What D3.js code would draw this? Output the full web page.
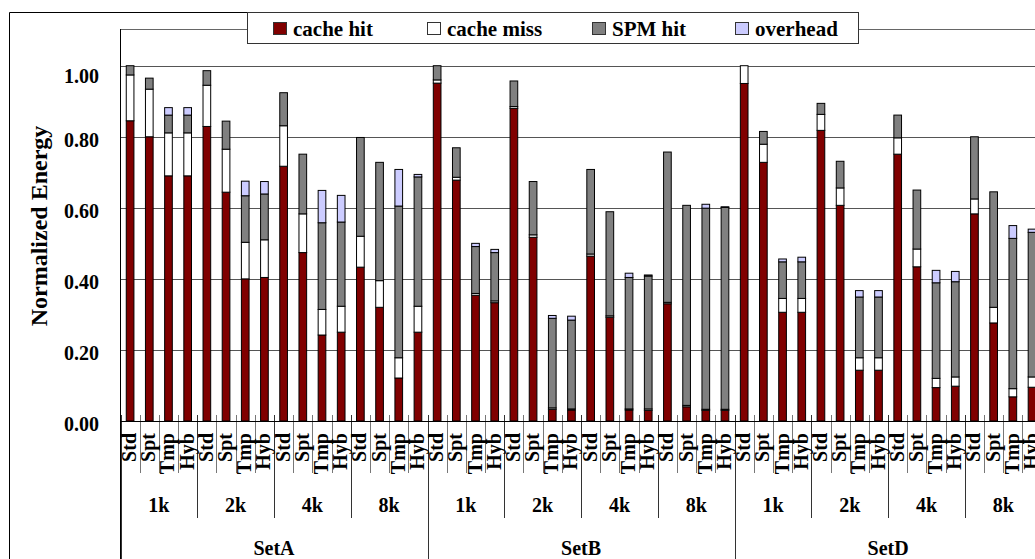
<!DOCTYPE html>
<html>
<head>
<meta charset="utf-8">
<script src="https://cdn.jsdelivr.net/npm/d3@7"></script>
<style>
  html, body { margin: 0; padding: 0; background: #fff; overflow: hidden; }
  svg { display: block; font-family: "Liberation Serif", "Times New Roman", serif; font-weight: bold; }
</style>
</head>
<body>
<div id="chart"></div>
<script>
const sets = ["SetA", "SetB", "SetD"];
const sizes = ["1k", "2k", "4k", "8k"];
const variants = ["Std", "Spt", "Tmp", "Hyb"];
const yTicks = [0, 0.2, 0.4, 0.6, 0.8, 1.0];
const seriesNames = ["cache hit", "cache miss", "SPM hit", "overhead"];

// one value per bar, ordered set -> size -> variant
const cacheHit = [
  0.845, 0.800, 0.690, 0.690, 0.829, 0.644, 0.400, 0.404, 0.717, 0.474, 0.242, 0.250, 0.433, 0.320, 0.121, 0.250,
  0.951, 0.678, 0.354, 0.333, 0.880, 0.517, 0.033, 0.031, 0.464, 0.292, 0.031, 0.030, 0.330, 0.040, 0.030, 0.030,
  0.950, 0.728, 0.306, 0.306, 0.818, 0.607, 0.143, 0.143, 0.751, 0.434, 0.094, 0.098, 0.583, 0.276, 0.068, 0.095
];
const cacheMiss = [
  0.129, 0.134, 0.121, 0.121, 0.116, 0.121, 0.103, 0.106, 0.114, 0.109, 0.072, 0.073, 0.087, 0.075, 0.057, 0.073,
  0.009, 0.008, 0.005, 0.005, 0.005, 0.007, 0.004, 0.003, 0.006, 0.004, 0.003, 0.004, 0.004, 0.004, 0.003, 0.003,
  0.050, 0.051, 0.039, 0.039, 0.045, 0.049, 0.035, 0.035, 0.046, 0.050, 0.026, 0.026, 0.042, 0.044, 0.023, 0.029
];
const spmHit = [
  0.026, 0.031, 0.050, 0.050, 0.041, 0.079, 0.131, 0.129, 0.093, 0.168, 0.244, 0.237, 0.278, 0.333, 0.427, 0.364,
  0.040, 0.083, 0.132, 0.136, 0.072, 0.150, 0.252, 0.250, 0.238, 0.293, 0.370, 0.374, 0.423, 0.563, 0.566, 0.568,
  0.000, 0.036, 0.103, 0.103, 0.031, 0.075, 0.171, 0.171, 0.064, 0.166, 0.269, 0.268, 0.175, 0.325, 0.423, 0.407
];
const overhead = [
  0, 0, 0.021, 0.021, 0, 0, 0.041, 0.035, 0, 0, 0.091, 0.075, 0, 0, 0.103, 0.007,
  0, 0, 0.009, 0.009, 0, 0, 0.008, 0.011, 0, 0, 0.012, 0.003, 0, 0, 0.011, 0.002,
  0, 0, 0.008, 0.013, 0, 0, 0.018, 0.018, 0, 0, 0.035, 0.029, 0, 0, 0.036, 0.009
];

const colors = ["#800000", "#ffffff", "#808080", "#ccccff"];

const width = 1035, height = 559;
const left = 120.5, step = 19.19;
const axisY = 421, topY = 65.7;

const rows = [];
sets.forEach((s, si) => sizes.forEach((z, zi) => variants.forEach((v, vi) => {
  const i = si * 16 + zi * 4 + vi;
  rows.push({ i, set: s, size: z, variant: v,
    "cache hit": cacheHit[i], "cache miss": cacheMiss[i],
    "SPM hit": spmHit[i], "overhead": overhead[i] });
})));

const x = d3.scaleBand()
  .domain(rows.map(d => d.i))
  .range([left, left + step * rows.length])
  .paddingInner(0.6)
  .paddingOuter(0.3);

const y = d3.scaleLinear().domain([0, 1]).range([axisY, topY]);
const color = d3.scaleOrdinal(seriesNames, colors);

const svg = d3.select("#chart").append("svg")
  .attr("width", width)
  .attr("height", height);

// outer frame
svg.append("path")
  .attr("d", `M859,12.5H9.5V${height}`)
  .attr("fill", "none")
  .attr("stroke", "#000");

// plot area top border
svg.append("line")
  .attr("x1", left).attr("x2", width)
  .attr("y1", 29.5).attr("y2", 29.5)
  .attr("stroke", "#666");

// gridlines
svg.append("g")
  .selectAll("line")
  .data(yTicks.filter(t => t > 0))
  .join("line")
  .attr("x1", left).attr("x2", width)
  .attr("y1", d => Math.round(y(d)) + 0.5)
  .attr("y2", d => Math.round(y(d)) + 0.5)
  .attr("stroke", "#555");

// y tick labels
svg.append("g")
  .selectAll("text")
  .data(yTicks)
  .join("text")
  .attr("x", 99)
  .attr("y", d => Math.max(y(d) + 3, 76))
  .attr("dy", "0.35em")
  .attr("text-anchor", "end")
  .attr("font-size", 20)
  .text(d => d3.format(".2f")(d));

// y title
svg.append("text")
  .attr("transform", "translate(47,226) rotate(-90)")
  .attr("text-anchor", "middle")
  .attr("font-size", 24)
  .text("Normalized Energy");

// stacked bars
const stack = d3.stack().keys(seriesNames)(rows);
svg.append("g")
  .selectAll("g")
  .data(stack)
  .join("g")
  .attr("fill", d => color(d.key))
  .selectAll("rect")
  .data(d => d.filter(p => p[1] - p[0] > 0))
  .join("rect")
  .attr("x", d => x(d.data.i))
  .attr("width", x.bandwidth())
  .attr("y", d => y(d[1]))
  .attr("height", d => y(d[0]) - y(d[1]))
  .attr("stroke", "#000")
  .attr("stroke-width", 1);

// category axis: ticks between bars, groups and sets
const bounds = d3.range(rows.length + 1);
svg.append("g")
  .selectAll("line")
  .data(bounds)
  .join("line")
  .attr("x1", d => Math.round(left + d * step) + 0.5)
  .attr("x2", d => Math.round(left + d * step) + 0.5)
  .attr("y1", axisY - 6)
  .attr("y2", d => d % 16 === 0 ? height : d % 4 === 0 ? 518 : 473)
  .attr("stroke", d => d % 4 === 0 ? "#333" : "#777");

svg.append("line")
  .attr("x1", left).attr("x2", width)
  .attr("y1", axisY + 0.5).attr("y2", axisY + 0.5)
  .attr("stroke", "#000");

svg.append("line")
  .attr("x1", left).attr("x2", left)
  .attr("y1", 29).attr("y2", height)
  .attr("stroke", "#000");

svg.append("g")
  .selectAll("text")
  .data(rows)
  .join("text")
  .attr("transform", d => `translate(${x(d.i) + x.bandwidth() / 2 + 6},433) rotate(-90)`)
  .attr("text-anchor", "end")
  .attr("font-size", 20)
  .text(d => d.variant);

const groups = [];
sets.forEach((s, si) => sizes.forEach((z, zi) => groups.push({ label: z, start: si * 16 + zi * 4 })));
svg.append("g")
  .selectAll("text")
  .data(groups)
  .join("text")
  .attr("x", d => left + (d.start + 2) * step)
  .attr("y", 512)
  .attr("text-anchor", "middle")
  .attr("font-size", 20)
  .text(d => d.label);

svg.append("g")
  .selectAll("text")
  .data(sets)
  .join("text")
  .attr("x", (d, i) => left + (i * 16 + 8) * step)
  .attr("y", 555)
  .attr("text-anchor", "middle")
  .attr("font-size", 20)
  .text(d => d);

// legend
const legend = svg.append("g");
legend.append("rect")
  .attr("x", 247.5).attr("y", 12.5)
  .attr("width", 611).attr("height", 31)
  .attr("fill", "#fff")
  .attr("stroke", "#333");
const legendX = [273, 427, 592, 735];
const item = legend.selectAll("g.item")
  .data(seriesNames)
  .join("g")
  .attr("class", "item")
  .attr("transform", (d, i) => `translate(${legendX[i]},0)`);
item.append("rect")
  .attr("x", 0.5).attr("y", 22.5)
  .attr("width", 13).attr("height", 12)
  .attr("fill", d => color(d))
  .attr("stroke", "#333");
item.append("text")
  .attr("x", 20).attr("y", 35.5)
  .attr("font-size", 21)
  .text(d => d);
</script>
</body>
</html>
